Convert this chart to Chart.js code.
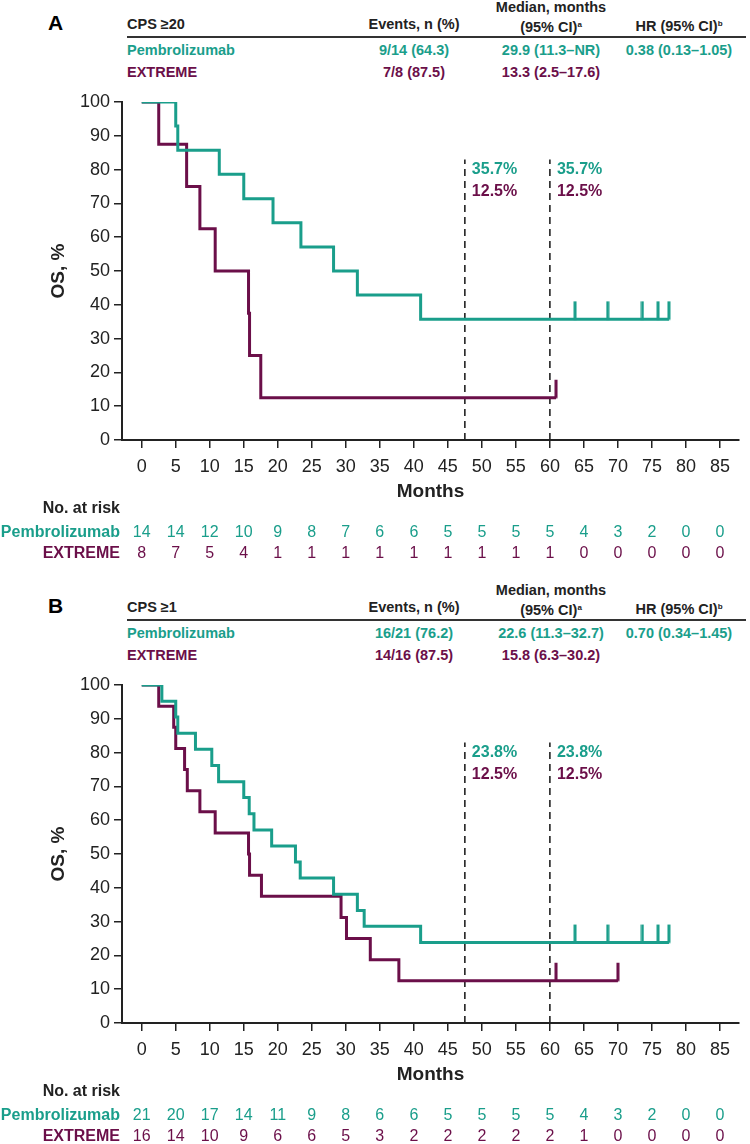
<!DOCTYPE html>
<html>
<head>
<meta charset="utf-8">
<script src="https://cdn.jsdelivr.net/npm/chart.js@4.4.1/dist/chart.umd.min.js"></script>
<style>
  body { margin:0; background:#fff; font-family:'Liberation Sans', Arial, sans-serif; }
  #page { position:relative; width:750px; height:1144px; overflow:hidden; }
  .t { position:absolute; font-weight:bold; font-size:14.5px; line-height:18px; white-space:nowrap; }
  .c { width:200px; text-align:center; }
  .rule { position:absolute; height:2px; background:#333; }
  .lab { position:absolute; font-weight:bold; font-size:21px; line-height:24px; }
  sup { font-size:8px; vertical-align:5px; }
  canvas { position:absolute; left:0; }
</style>
</head>
<body>
<div id="page">
  <canvas id="chartA" width="750" height="485" style="top:85px"></canvas>
  <canvas id="chartB" width="750" height="476" style="top:668px"></canvas>
</div>
<script>
var TEAL = '#1a9e8b';
var PURPLE = '#6b0f49';
var INK = '#222';

var months = [0,5,10,15,20,25,30,35,40,45,50,55,60,65,70,75,80,85];
var yTicks = [0,10,20,30,40,50,60,70,80,90,100];
var armNames = ['Pembrolizumab', 'EXTREME'];
var headCols = ['Events, n (%)', 'Median, months|(95% CI)|a', 'HR (95% CI)|b'];

// panel A, CPS >=20
var aTitle = 'CPS \u226520';
var aPembroT = [0, 5.0, 5.3, 11.4, 15.0, 19.3, 23.4, 28.2, 31.7, 41.0, 77.5];
var aPembroS = [100, 92.9, 85.7, 78.6, 71.4, 64.3, 57.1, 50.0, 42.9, 35.7, 35.7];
var aPembroCens = [63.7, 68.5, 73.6, 75.9, 77.5];
var aExtT = [0, 2.5, 6.6, 8.55, 10.8, 15.7, 15.85, 17.5, 60.9];
var aExtS = [100, 87.5, 75, 62.5, 50, 37.5, 25, 12.5, 12.5];
var aExtCens = [60.9];
var aRiskPembro = [14,14,12,10,9,8,7,6,6,5,5,5,5,4,3,2,0,0];
var aRiskExt = [8,7,5,4,1,1,1,1,1,1,1,1,1,0,0,0,0,0];
var aRowPembro = ['9/14 (64.3)', '29.9 (11.3\u2013NR)', '0.38 (0.13\u20131.05)'];
var aRowExt = ['7/8 (87.5)', '13.3 (2.5\u201317.6)', ''];
var aLandPembro = ['35.7%', '35.7%'];
var aLandExt = ['12.5%', '12.5%'];

// panel B, CPS >=1
var bTitle = 'CPS \u22651';
var bPembroT = [0, 2.96, 5.0, 5.3, 7.9, 10.3, 11.3, 15.0, 15.8, 16.5, 19.1, 22.6, 23.3, 28.2, 31.7, 32.7, 41.0, 77.5];
var bPembroS = [100, 95.2, 90.5, 85.7, 81.0, 76.2, 71.4, 66.7, 61.9, 57.1, 52.4, 47.6, 42.9, 38.1, 33.3, 28.6, 23.8, 23.8];
var bPembroCens = [63.7, 68.5, 73.6, 75.9, 77.5];
var bExtT = [0, 2.5, 4.7, 5.0, 6.3, 6.7, 8.55, 10.8, 15.7, 15.85, 17.6, 29.3, 30.1, 33.6, 37.8, 70.0];
var bExtS = [100, 93.75, 87.5, 81.25, 75, 68.75, 62.5, 56.25, 50, 43.75, 37.5, 31.25, 25, 18.75, 12.5, 12.5];
var bExtCens = [60.9, 70.0];
var bRiskPembro = [21,20,17,14,11,9,8,6,6,5,5,5,5,4,3,2,0,0];
var bRiskExt = [16,14,10,9,6,6,5,3,2,2,2,2,2,1,0,0,0,0];
var bRowPembro = ['16/21 (76.2)', '22.6 (11.3\u201332.7)', '0.70 (0.34\u20131.45)'];
var bRowExt = ['14/16 (87.5)', '15.8 (6.3\u201330.2)', ''];
var bLandPembro = ['23.8%', '23.8%'];
var bLandExt = ['12.5%', '12.5%'];

var landmarks = [47.5, 60];
var landTop = 83;

var page = document.getElementById('page');

function addText(cls, txt, left, top, color) {
  var d = document.createElement('div');
  d.className = cls;
  d.style.left = left + 'px';
  d.style.top = top + 'px';
  if (color) d.style.color = color;
  d.innerHTML = txt;
  page.appendChild(d);
  return d;
}

function colText(s) {
  var p = s.split('|');
  if (p.length == 3) return p[0] + '<br>' + p[1] + '<sup>' + p[2] + '</sup>';
  if (p.length == 2) return p[0] + '<sup>' + p[1] + '</sup>';
  return s;
}

// header table; y0 = y of the rule line
function header(letter, title, rowP, rowE, y0) {
  addText('lab', letter, 48, y0 - 26);
  addText('t', title, 127, y0 - 22, INK);
  var cx = [414, 551, 679];
  for (var i = 0; i < headCols.length; i++) {
    var two = headCols[i].split('|').length == 3;
    addText('t c', colText(headCols[i]), cx[i] - 100, y0 - (two ? 39 : 22), INK);
  }
  var r = document.createElement('div');
  r.className = 'rule';
  r.style.left = '127px'; r.style.width = '619px'; r.style.top = (y0 - 1) + 'px';
  page.appendChild(r);
  addText('t', armNames[0], 127, y0 + 4, TEAL);
  addText('t', armNames[1], 127, y0 + 26, PURPLE);
  for (var j = 0; j < 3; j++) {
    addText('t c', rowP[j], cx[j] - 100, y0 + 4, TEAL);
    addText('t c', rowE[j], cx[j] - 100, y0 + 26, PURPLE);
  }
}

function pts(T, S) {
  return T.map(function (t, i) { return { x: t, y: S[i] }; });
}

function survAt(T, S, t) {
  var v = S[0];
  for (var i = 0; i < T.length; i++) if (T[i] <= t) v = S[i];
  return v;
}

function censorImg(color) {
  var c = document.createElement('canvas');
  c.width = 4; c.height = 38;
  var g = c.getContext('2d');
  g.strokeStyle = color; g.lineWidth = 3;
  g.beginPath(); g.moveTo(2, 1); g.lineTo(2, 19.5); g.stroke();
  return c;
}

function makeChart(id, d) {
  var riskPlugin = {
    id: 'risk' + id,
    afterDraw: function (chart) {
      var ctx = chart.ctx, x = chart.scales.x, y = chart.scales.y;
      var base = chart.chartArea.bottom;
      ctx.save();
      ctx.textBaseline = 'middle';
      // landmark labels
      ctx.font = 'bold 16px "Liberation Sans", Arial, sans-serif';
      ctx.textAlign = 'left';
      var top = y.getPixelForValue(landTop);
      landmarks.forEach(function (m, i) {
        var px = x.getPixelForValue(m) + 7;
        ctx.fillStyle = TEAL; ctx.fillText(d.landP[i], px, top + 10);
        ctx.fillStyle = PURPLE; ctx.fillText(d.landE[i], px, top + 32);
      });
      // number at risk
      ctx.textAlign = 'right';
      ctx.fillStyle = INK; ctx.fillText('No. at risk', 120, base + 69);
      ctx.fillStyle = TEAL; ctx.fillText(armNames[0], 120, base + 93);
      ctx.fillStyle = PURPLE; ctx.fillText(armNames[1], 120, base + 114);
      ctx.font = '16px "Liberation Sans", Arial, sans-serif';
      ctx.textAlign = 'center';
      months.forEach(function (m, i) {
        var px = x.getPixelForValue(m);
        ctx.fillStyle = TEAL; ctx.fillText(String(d.riskP[i]), px, base + 93);
        ctx.fillStyle = PURPLE; ctx.fillText(String(d.riskE[i]), px, base + 114);
      });
      ctx.restore();
    }
  };

  var ds = [
    { data: pts(d.pT, d.pS), borderColor: TEAL, borderWidth: 3, stepped: 'before', pointRadius: 0, fill: false },
    { data: pts(d.eT, d.eS), borderColor: PURPLE, borderWidth: 3, stepped: 'before', pointRadius: 0, fill: false },
    { type: 'scatter', data: d.pC.map(function (t) { return { x: t, y: survAt(d.pT, d.pS, t) }; }),
      pointStyle: censorImg(TEAL), pointRadius: 10 },
    { type: 'scatter', data: d.eC.map(function (t) { return { x: t, y: survAt(d.eT, d.eS, t) }; }),
      pointStyle: censorImg(PURPLE), pointRadius: 10 }
  ];
  landmarks.forEach(function (m) {
    ds.push({ data: [{ x: m, y: 0 }, { x: m, y: landTop }], borderColor: INK, borderWidth: 1.6,
      borderDash: [7, 5], pointRadius: 0, fill: false });
  });

  return new Chart(document.getElementById(id), {
    type: 'line',
    data: { datasets: ds },
    options: {
      responsive: false,
      animation: false,
      devicePixelRatio: 1,
      layout: { padding: { top: 17, right: 2, left: 0, bottom: d.padBottom } },
      plugins: { legend: { display: false }, tooltip: { enabled: false } },
      scales: {
        x: {
          type: 'linear', min: -2.9, max: 87.8,
          afterBuildTicks: function (s) { s.ticks = months.map(function (v) { return { value: v }; }); },
          afterFit: function (s) { s.height = 63; },
          grid: { drawOnChartArea: false, drawTicks: true, tickLength: 8, color: INK, lineWidth: 1.5 },
          border: { display: true, color: INK, width: 2 },
          ticks: { color: INK, padding: 8, maxRotation: 0, autoSkip: false,
            font: { family: '"Liberation Sans", Arial, sans-serif', size: 18 } },
          title: { display: true, text: 'Months', color: INK, padding: 0,
            font: { family: '"Liberation Sans", Arial, sans-serif', size: 19, weight: 'bold' } }
        },
        y: {
          min: 0, max: 100,
          afterBuildTicks: function (s) { s.ticks = yTicks.map(function (v) { return { value: v }; }); },
          afterFit: function (s) { s.width = 122; },
          grid: { drawOnChartArea: false, drawTicks: true, tickLength: 8, color: INK, lineWidth: 1.5 },
          border: { display: true, color: INK, width: 2 },
          ticks: { color: INK, padding: 4,
            font: { family: '"Liberation Sans", Arial, sans-serif', size: 18 } },
          title: { display: true, text: 'OS, %', color: INK, padding: { top: 47 },
            font: { family: '"Liberation Sans", Arial, sans-serif', size: 19, weight: 'bold' } }
        }
      }
    },
    plugins: [riskPlugin]
  });
}

header('A', aTitle, aRowPembro, aRowExt, 37);
header('B', bTitle, bRowPembro, bRowExt, 620);

makeChart('chartA', { pT: aPembroT, pS: aPembroS, pC: aPembroCens, eT: aExtT, eS: aExtS, eC: aExtCens,
  riskP: aRiskPembro, riskE: aRiskExt, landP: aLandPembro, landE: aLandExt, padBottom: 67 });
makeChart('chartB', { pT: bPembroT, pS: bPembroS, pC: bPembroCens, eT: bExtT, eS: bExtS, eC: bExtCens,
  riskP: bRiskPembro, riskE: bRiskExt, landP: bLandPembro, landE: bLandExt, padBottom: 58 });
</script>
</body>
</html>
